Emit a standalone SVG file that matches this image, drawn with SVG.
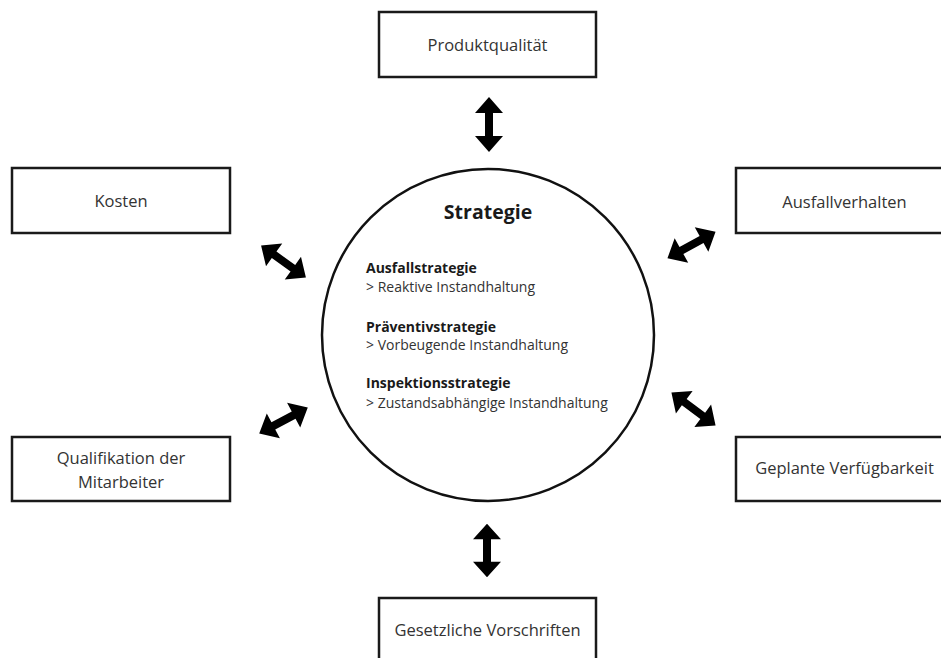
<svg xmlns="http://www.w3.org/2000/svg" width="941" height="658" viewBox="0 0 941 658">
  <style>
    .box { fill: #ffffff; stroke: #1a1a1a; stroke-width: 2.5; }
    .lbl { font-family: "Open Sans", "Liberation Sans", sans-serif; font-size: 16.5px; fill: #333333; text-anchor: middle; }
    .hub { fill: #ffffff; stroke: #111111; stroke-width: 2.5; }
    .title { font-family: "Open Sans", "Liberation Sans", sans-serif; font-size: 19.5px; font-weight: bold; fill: #1a1a1a; text-anchor: middle; }
    .head { font-family: "Open Sans", "Liberation Sans", sans-serif; font-size: 14px; font-weight: bold; fill: #1a1a1a; }
    .item { font-family: "Open Sans", "Liberation Sans", sans-serif; font-size: 14px; fill: #333333; }
    .arrow { fill: #000000; }
  </style>
  <defs>
    <!-- double-headed block arrow, centred on the origin, pointing along x -->
    <path id="dbl" d="M -27.5 0 L -11.5 -14 L -11.5 -4 L 11.5 -4 L 11.5 -14 L 27.5 0 L 11.5 14 L 11.5 4 L -11.5 4 L -11.5 14 Z"/>
  </defs>

  <rect width="941" height="658" fill="#ffffff"/>

  <!-- centre: strategy circle -->
  <g id="strategie">
    <circle class="hub" cx="488" cy="335" r="166"/>
    <text class="title" x="488" y="219">Strategie</text>
    <text class="head" x="366" y="273">Ausfallstrategie</text>
    <text class="item" x="366" y="292">&gt; Reaktive Instandhaltung</text>
    <text class="head" x="366" y="332">Präventivstrategie</text>
    <text class="item" x="366" y="350">&gt; Vorbeugende Instandhaltung</text>
    <text class="head" x="366" y="388">Inspektionsstrategie</text>
    <text class="item" x="366" y="408">&gt; Zustandsabhängige Instandhaltung</text>
  </g>

  <!-- surrounding factors -->
  <g id="produktqualitaet">
    <rect class="box" x="379" y="12" width="217" height="65"/>
    <text class="lbl" x="487.5" y="51">Produktqualität</text>
  </g>
  <g id="kosten">
    <rect class="box" x="12" y="168" width="218" height="65"/>
    <text class="lbl" x="121" y="207">Kosten</text>
  </g>
  <g id="ausfallverhalten">
    <rect class="box" x="736" y="168" width="217" height="65"/>
    <text class="lbl" x="844.5" y="208">Ausfallverhalten</text>
  </g>
  <g id="qualifikation">
    <rect class="box" x="12" y="437" width="218" height="64"/>
    <text class="lbl" x="121" y="464">Qualifikation der</text>
    <text class="lbl" x="121" y="488">Mitarbeiter</text>
  </g>
  <g id="verfuegbarkeit">
    <rect class="box" x="736" y="437" width="217" height="64"/>
    <text class="lbl" x="844.5" y="474">Geplante Verfügbarkeit</text>
  </g>
  <g id="vorschriften">
    <rect class="box" x="379" y="598" width="217" height="65"/>
    <text class="lbl" x="487.5" y="636">Gesetzliche Vorschriften</text>
  </g>

  <!-- two-way connectors between the circle and each factor -->
  <g id="connectors" class="arrow">
    <use href="#dbl" transform="translate(489 124.5) rotate(90)"/>
    <use href="#dbl" transform="translate(487 550.5) rotate(90) scale(0.97 1)"/>
    <use href="#dbl" transform="translate(283.5 261.5) rotate(35.4)"/>
    <use href="#dbl" transform="translate(691.5 245) rotate(-29)"/>
    <use href="#dbl" transform="translate(283.5 420.5) rotate(-28)"/>
    <use href="#dbl" transform="translate(693.5 409) rotate(36.6)"/>
  </g>
</svg>
